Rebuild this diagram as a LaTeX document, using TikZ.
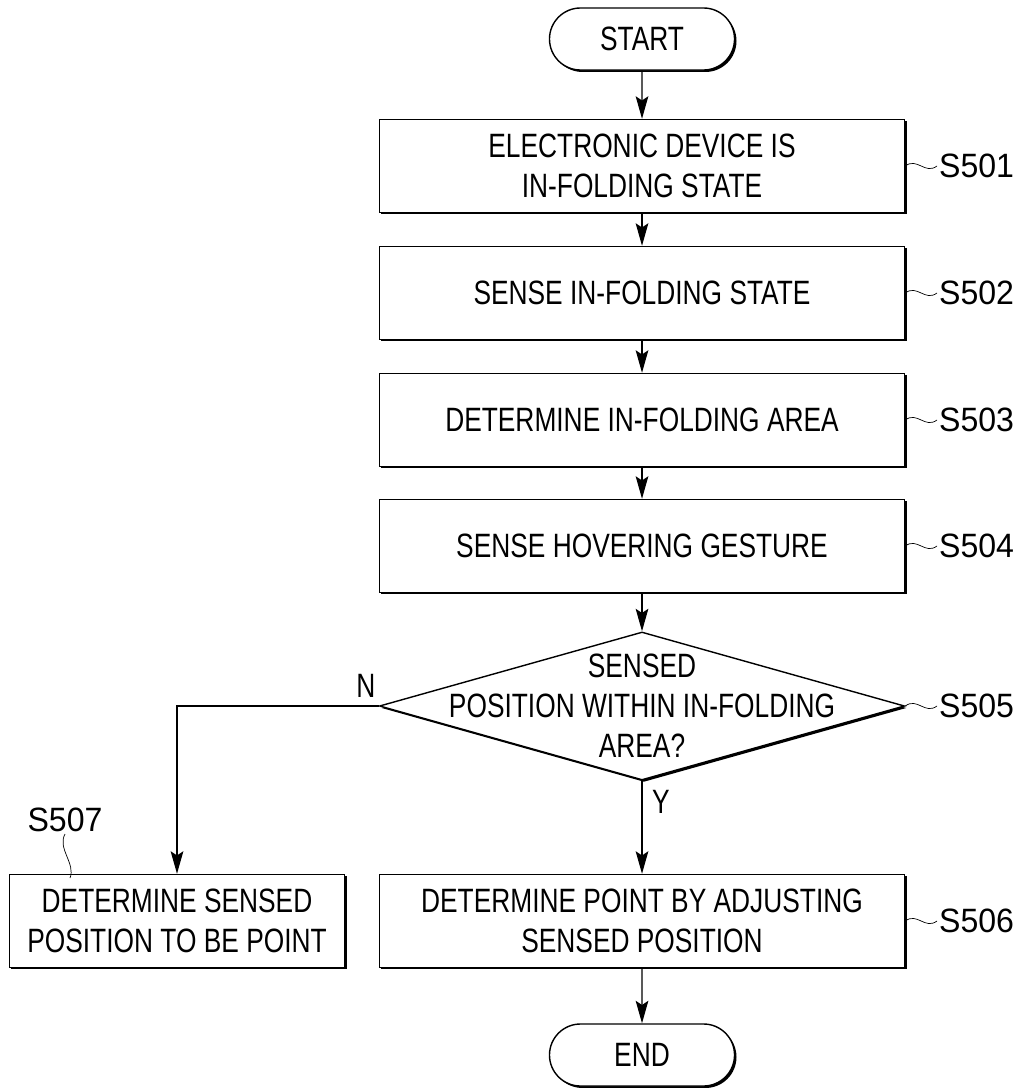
\documentclass[tikz,border=0pt]{standalone}
\usepackage{fontspec}
\setmainfont{Liberation Sans}[FakeStretch=0.78]
\newfontfamily\tagfont{Liberation Sans}[FakeStretch=0.95]
\usetikzlibrary{shapes.geometric,shapes.misc,shadows,arrows.meta}

\tikzstyle{pixel}=[x={(0.025cm,0cm)},y={(0cm,-0.025cm)}]
\tikzstyle{shadowed}=[drop shadow={shadow xshift=1.4pt,shadow yshift=-1.4pt,fill=black,opacity=1}]
\tikzstyle{stepbox}=[draw,fill=white,shadowed,minimum width=13.125cm,minimum height=2.325cm,align=center,inner sep=0pt]
\tikzstyle{terminal}=[draw,fill=white,shadowed,rounded rectangle,minimum width=4.625cm,minimum height=1.55cm,inner sep=0pt]
\tikzstyle{decision}=[draw,fill=white,shadowed,diamond,minimum width=13.125cm,minimum height=3.7cm,inner sep=0pt]
\tikzstyle{flow}=[-{Stealth[length=16pt,width=9pt,inset=3pt]}]
\tikzstyle{tag}=[anchor=west,inner sep=1pt,font=\fontsize{24}{28.5}\tagfont]

\begin{document}
\begin{tikzpicture}[pixel,line width=1pt,font=\fontsize{24}{28.5}\selectfont]
	\useasboundingbox (0,0) rectangle (1023,1090);
	\node[terminal] (start) at (642,39) {START};
	\node[stepbox] (s501) at (642,166) {ELECTRONIC DEVICE IS\\IN-FOLDING STATE};
	\node[stepbox] (s502) at (642,293) {SENSE IN-FOLDING STATE};
	\node[stepbox] (s503) at (642,420) {DETERMINE IN-FOLDING AREA};
	\node[stepbox] (s504) at (642,546) {SENSE HOVERING GESTURE};
	\node[decision] (s505) at (642,706) {};
	\node[align=center] (q505) at (s505) {SENSED\\POSITION WITHIN IN-FOLDING\\AREA?};
	\node[stepbox] (s506) at (642,921) {DETERMINE POINT BY ADJUSTING\\SENSED POSITION};
	\node[stepbox,minimum width=8.375cm] (s507) at (177,921) {DETERMINE SENSED\\POSITION TO BE POINT};
	\node[terminal] (end) at (642,1055) {END};
%
	\draw[flow] (start) -- (s501);
	\draw[flow] (s501) -- (s502);
	\draw[flow] (s502) -- (s503);
	\draw[flow] (s503) -- (s504);
	\draw[flow] (s504) -- (s505);
	\draw[flow] (s505.south) -- (s506);
	\draw[flow] (s505.west) -| (s507.north);
	\draw[flow] (s506) -- (end);
	\node (n) at (366,686) {N};
	\node (y) at (661,802) {Y};
%
	\foreach \s in {501,...,506}
		\node[tag] (l\s) at (937,0 |- s\s) {S\s};
	\foreach \s in {501,...,506}
		\draw[line width=0.5pt] (s\s.east |- l\s) .. controls +(12,-9) and +(-12,9) .. (l\s.west);
	\node[tag,anchor=center] (l507) at (65,820) {S507};
	\coordinate (t507) at (70,878);
	\draw[line width=0.5pt] (l507.south) .. controls +(-8,14) and +(6,-14) .. (t507);
\end{tikzpicture}
\end{document}
